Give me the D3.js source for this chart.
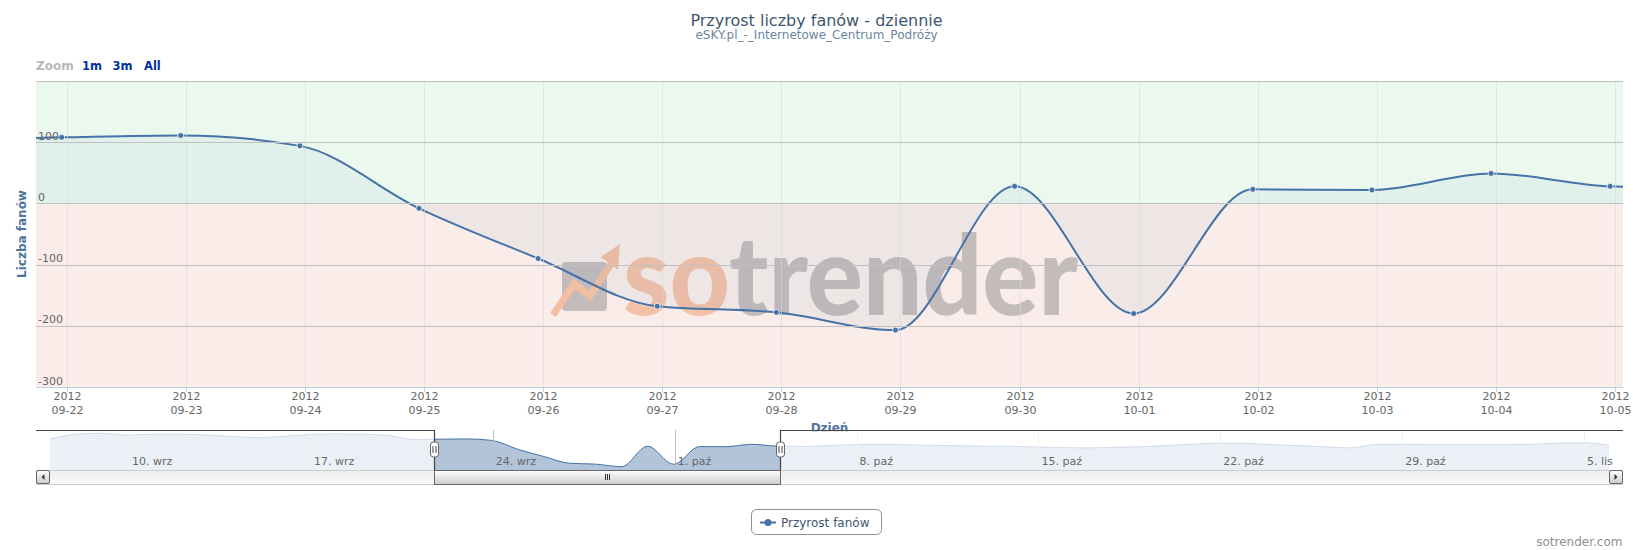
<!DOCTYPE html>
<html lang="pl">
<head>
<meta charset="utf-8">
<title>Przyrost liczby fanów - dziennie</title>
<script src="https://cdnjs.cloudflare.com/ajax/libs/d3/7.8.5/d3.min.js"></script>
<style>
    body { margin: 0; background: #fff; }
    svg { display: block; font-family: "DejaVu Sans", Verdana, sans-serif; }
</style>
</head>
<body>
<svg id="chart"></svg>
<script>
    // daily fan growth (eSKY.pl), 7 Sep - 6 Nov 2012
    var days = [
        "2012-09-07","2012-09-08","2012-09-09","2012-09-10","2012-09-11","2012-09-12","2012-09-13",
        "2012-09-14","2012-09-15","2012-09-16","2012-09-17","2012-09-18","2012-09-19","2012-09-20",
        "2012-09-21","2012-09-22","2012-09-23","2012-09-24","2012-09-25","2012-09-26","2012-09-27",
        "2012-09-28","2012-09-29","2012-09-30","2012-10-01","2012-10-02","2012-10-03","2012-10-04",
        "2012-10-05","2012-10-06","2012-10-07","2012-10-08","2012-10-09","2012-10-10","2012-10-11",
        "2012-10-12","2012-10-13","2012-10-14","2012-10-15","2012-10-16","2012-10-17","2012-10-18",
        "2012-10-19","2012-10-20","2012-10-21","2012-10-22","2012-10-23","2012-10-24","2012-10-25",
        "2012-10-26","2012-10-27","2012-10-28","2012-10-29","2012-10-30","2012-10-31","2012-11-01",
        "2012-11-02","2012-11-03","2012-11-04","2012-11-05","2012-11-06"
    ];
    var fans = [
        108, 165, 175, 155, 165, 165, 155,
        140, 125, 140, 162, 168, 165, 152,
        104, 108, 111, 94, -8, -90, -168,
        -178, -207, 28, -180, 23, 22, 49,
        28, 25, 35, 45, 50, 42, 38,
        32, 28, 26, 18, 10, 8, 15,
        22, 35, 50, 62, 60, 45, 35,
        22, 8, 45, 50, 45, 45, 45,
        45, 50, 62, 68, 38
    ];
    // visible window of the main chart
    var viewFrom = "2012-09-21 17:50", viewTo = "2012-10-05 01:35";
    var yTicks = [100, 0, -100, -200, -300];
    var yGrid = [200, 100, 0, -100, -200];
    var monthsPl = ["sty","lut","mar","kwi","maj","cze","lip","sie","wrz","paź","lis","gru"];
    var zoomButtons = ["1m", "3m", "All"];

    var W = 1633, H = 550;
    var plot = {left: 36, right: 1623, top: 81, bottom: 387};
    var nav = {top: 430, bottom: 470, sb: 484};

    var parse = d3.timeParse("%Y-%m-%d %H:%M");
    var data = days.map(function(d, i) {
        // points sit one hour before local midnight in the original
        return {date: d3.timeHour.offset(parse(d + " 00:00"), -1), value: fans[i]};
    });

    var svg = d3.select("#chart").attr("width", W).attr("height", H);

    // titles
    svg.append("text").attr("x", W / 2).attr("y", 25.5).attr("text-anchor", "middle")
        .style("font-size", "16px").attr("fill", "#3e576f").text("Przyrost liczby fanów - dziennie");
    svg.append("text").attr("x", W / 2).attr("y", 39).attr("text-anchor", "middle")
        .style("font-size", "12px").attr("fill", "#6d869f").text("eSKY.pl_-_Internetowe_Centrum_Podróży");

    // range selector
    svg.append("text").attr("x", 36).attr("y", 69.5).style("font-size", "12px")
        .style("font-weight", "bold").attr("fill", "#b8b8b8").text("Zoom");
    var btnX = [82, 112.5, 144];
    zoomButtons.forEach(function(b, i) {
        svg.append("text").attr("x", btnX[i]).attr("y", 69.5).style("font-size", "11.5px")
            .style("font-weight", "bold").attr("fill", "#003399").text(b);
    });

    // scales
    var x = d3.scaleTime().domain([parse(viewFrom), parse(viewTo)]).range([plot.left, plot.right]);
    var y = d3.scaleLinear().domain([-300, 200]).range([plot.bottom, plot.top]);

    svg.append("clipPath").attr("id", "clip").append("rect")
        .attr("x", plot.left).attr("y", plot.top)
        .attr("width", plot.right - plot.left).attr("height", plot.bottom - plot.top);

    // plot bands
    svg.append("rect").attr("x", plot.left).attr("y", y(200)).attr("width", plot.right - plot.left)
        .attr("height", y(0) - y(200)).attr("fill", "#ebf8ee");
    svg.append("rect").attr("x", plot.left).attr("y", y(0)).attr("width", plot.right - plot.left)
        .attr("height", y(-300) - y(0)).attr("fill", "#f9ece9");

    // watermark
    var wm = svg.append("g");
    wm.append("rect").attr("x", 562).attr("y", 262).attr("width", 45).attr("height", 49)
        .attr("rx", 4).attr("fill", "#c4bcbc");
    wm.append("polyline").attr("points", "553,315 574,284 590,296 611,264")
        .attr("fill", "none").attr("stroke", "#f3bfa2").attr("stroke-width", 7)
        .attr("stroke-linejoin", "miter");
    wm.append("polygon").attr("points", "601,257 620,244 618,270").attr("fill", "#f3bfa2");
    var wt = wm.append("text").attr("x", 623).attr("y", 315)
        .attr("textLength", 455).attr("lengthAdjust", "spacingAndGlyphs")
        .style("font-family", "Lato, 'Open Sans', sans-serif").style("font-weight", "900")
        .style("font-size", "111px");
    wt.append("tspan").attr("fill", "#f3c1a6").text("so");
    wt.append("tspan").attr("fill", "#c4bbbb").text("trender");

    var pg = svg.append("g").attr("clip-path", "url(#clip)");

    // area between series and zero
    var area = d3.area().curve(d3.curveMonotoneX)
        .x(function(d) { return x(d.date); })
        .y0(y(0))
        .y1(function(d) { return y(d.value); });
    pg.append("path").datum(data).attr("d", area).attr("fill", "#4572a7").attr("fill-opacity", 0.06);

    // grid
    var xTicks = d3.timeDay.range(d3.timeDay.ceil(x.domain()[0]), x.domain()[1]);
    svg.append("g").selectAll("line").data(xTicks).enter().append("line")
        .attr("x1", function(d) { return Math.round(x(d)) + 0.5; })
        .attr("x2", function(d) { return Math.round(x(d)) + 0.5; })
        .attr("y1", plot.top).attr("y2", plot.bottom)
        .attr("stroke", "#d8d8d8").attr("stroke-opacity", 0.6);
    svg.append("g").selectAll("line").data(yGrid).enter().append("line")
        .attr("x1", plot.left).attr("x2", plot.right)
        .attr("y1", function(d) { return Math.round(y(d)) + 0.5; })
        .attr("y2", function(d) { return Math.round(y(d)) + 0.5; })
        .attr("stroke", "#c0c0c0");

    // x axis
    svg.append("line").attr("x1", plot.left).attr("x2", plot.right)
        .attr("y1", plot.bottom + 0.5).attr("y2", plot.bottom + 0.5).attr("stroke", "#c0d0e0");
    var xl = svg.append("g").selectAll("g").data(xTicks).enter().append("g")
        .attr("transform", function(d) { return "translate(" + (Math.round(x(d)) + 0.5) + ",0)"; });
    xl.append("line").attr("y1", plot.bottom).attr("y2", plot.bottom + 5).attr("stroke", "#c0d0e0");
    xl.append("text").attr("y", 400).attr("text-anchor", "middle").style("font-size", "11px")
        .attr("fill", "#666").text(d3.timeFormat("%Y"));
    xl.append("text").attr("y", 414).attr("text-anchor", "middle").style("font-size", "11px")
        .attr("fill", "#666").text(d3.timeFormat("%m-%d"));
    svg.append("text").attr("x", (plot.left + plot.right) / 2).attr("y", 431.5)
        .attr("text-anchor", "middle").style("font-size", "12px").style("font-weight", "bold")
        .attr("fill", "#4d759e").text("Dzień");

    // y axis
    svg.append("g").selectAll("text").data(yTicks).enter().append("text")
        .attr("x", 38).attr("y", function(d) { return y(d) - 2.5; })
        .style("font-size", "11px").attr("fill", "#666").text(function(d) { return d; });
    svg.append("text").attr("transform", "translate(26," + (plot.top + plot.bottom) / 2 + ") rotate(-90)")
        .attr("text-anchor", "middle").style("font-size", "12px").style("font-weight", "bold")
        .attr("fill", "#4d759e").text("Liczba fanów");

    // series
    var line = d3.line().curve(d3.curveMonotoneX)
        .x(function(d) { return x(d.date); })
        .y(function(d) { return y(d.value); });
    pg.append("path").datum(data).attr("d", line).attr("fill", "none")
        .attr("stroke", "#4572a7").attr("stroke-width", 2);
    pg.selectAll("circle").data(data).enter().append("circle")
        .attr("cx", function(d) { return x(d.date); })
        .attr("cy", function(d) { return y(d.value); })
        .attr("r", 3).attr("fill", "#4572a7").attr("stroke", "#fff").attr("stroke-width", 0.8);

    // navigator
    var nx = d3.scaleTime()
        .domain([d3.timeHour.offset(data[0].date, -13), d3.timeHour.offset(data[data.length - 1].date, 13)])
        .range([plot.left, plot.right]);
    var ext = d3.extent(data, function(d) { return d.value; });
    var pad = (ext[1] - ext[0]) * 0.1;
    var ny = d3.scaleLinear().domain([ext[0] - pad, ext[1] + pad]).range([nav.bottom, nav.top]);
    var navArea = d3.area().curve(d3.curveMonotoneX)
        .x(function(d) { return nx(d.date); })
        .y0(nav.bottom)
        .y1(function(d) { return ny(d.value); });
    var navLine = d3.line().curve(d3.curveMonotoneX)
        .x(function(d) { return nx(d.date); })
        .y(function(d) { return ny(d.value); });
    svg.append("path").datum(data).attr("d", navArea).attr("fill", "#4572a7").attr("fill-opacity", 0.42);
    svg.append("path").datum(data).attr("d", navLine).attr("fill", "none")
        .attr("stroke", "#4572a7").attr("stroke-width", 1);

    var weeks = d3.timeMonday.range(nx.domain()[0], nx.domain()[1]);
    svg.append("g").selectAll("line").data(weeks).enter().append("line")
        .attr("x1", function(d) { return Math.round(nx(d)) + 0.5; })
        .attr("x2", function(d) { return Math.round(nx(d)) + 0.5; })
        .attr("y1", nav.top).attr("y2", nav.bottom).attr("stroke", "#c0c0c0");

    var selA = Math.round(nx(x.domain()[0])), selB = Math.round(nx(x.domain()[1]));
    svg.append("rect").attr("x", plot.left).attr("y", nav.top).attr("width", selA - plot.left)
        .attr("height", nav.bottom - nav.top).attr("fill", "rgba(255,255,255,0.75)");
    svg.append("rect").attr("x", selB).attr("y", nav.top).attr("width", plot.right - selB)
        .attr("height", nav.bottom - nav.top).attr("fill", "rgba(255,255,255,0.75)");

    svg.append("g").selectAll("text").data(weeks).enter().append("text")
        .attr("x", function(d) { return nx(d) + 3; }).attr("y", 465)
        .style("font-size", "11px").attr("fill", "#666")
        .text(function(d) { return d.getDate() + ". " + monthsPl[d.getMonth()]; });

    // scrollbar
    var defs = svg.append("defs");
    var g1 = defs.append("linearGradient").attr("id", "track").attr("x1", 0).attr("x2", 0).attr("y1", 0).attr("y2", 1);
    g1.append("stop").attr("offset", "0").attr("stop-color", "#eeeeee");
    g1.append("stop").attr("offset", "1").attr("stop-color", "#fafafa");
    var g2 = defs.append("linearGradient").attr("id", "thumb").attr("x1", 0).attr("x2", 0).attr("y1", 0).attr("y2", 1);
    g2.append("stop").attr("offset", "0").attr("stop-color", "#ffffff");
    g2.append("stop").attr("offset", "1").attr("stop-color", "#cccccc");

    svg.append("rect").attr("x", plot.left + 0.5).attr("y", nav.bottom + 0.5)
        .attr("width", plot.right - plot.left - 1).attr("height", nav.sb - nav.bottom)
        .attr("fill", "url(#track)").attr("stroke", "#cccccc");
    svg.append("rect").attr("x", selA + 0.5).attr("y", nav.bottom + 0.5)
        .attr("width", selB - selA).attr("height", nav.sb - nav.bottom)
        .attr("fill", "url(#thumb)").attr("stroke", "#666");
    var mid = Math.round((selA + selB) / 2);
    [-2, 0, 2].forEach(function(o) {
        svg.append("line").attr("x1", mid + o + 0.5).attr("x2", mid + o + 0.5)
            .attr("y1", 474).attr("y2", 480).attr("stroke", "#333");
    });
    [plot.left, plot.right - 14].forEach(function(bx, i) {
        svg.append("rect").attr("x", bx + 0.5).attr("y", nav.bottom + 0.5).attr("width", 13).attr("height", 13)
            .attr("rx", 1.5).attr("fill", "url(#thumb)").attr("stroke", "#666");
        var cx = bx + 7, cy = nav.bottom + 7;
        var pts = i === 0 ? [[cx + 1.5, cy - 3], [cx + 1.5, cy + 3], [cx - 1.5, cy]]
                          : [[cx - 1.5, cy - 3], [cx - 1.5, cy + 3], [cx + 1.5, cy]];
        svg.append("polygon").attr("points", pts.join(" ")).attr("fill", "#333");
    });

    // navigator outline and handles
    svg.append("path")
        .attr("d", "M" + plot.left + "," + (nav.top + 0.5) + "H" + (selA + 0.5) + "V" + nav.bottom +
            "M" + (selB + 0.5) + "," + nav.bottom + "V" + (nav.top + 0.5) + "H" + plot.right)
        .attr("fill", "none").attr("stroke", "#444").attr("stroke-width", 1.2);
    [selA, selB].forEach(function(hx) {
        var h = svg.append("g").attr("transform", "translate(" + (hx + 0.5) + ",0)");
        h.append("rect").attr("x", -4).attr("y", 442).attr("width", 8).attr("height", 15)
            .attr("rx", 3).attr("fill", "#fff").attr("stroke", "#666");
        h.append("line").attr("x1", -1.5).attr("x2", -1.5).attr("y1", 446).attr("y2", 453).attr("stroke", "#444");
        h.append("line").attr("x1", 1.5).attr("x2", 1.5).attr("y1", 446).attr("y2", 453).attr("stroke", "#444");
    });

    // legend
    svg.append("rect").attr("x", 751.5).attr("y", 509.5).attr("width", 130).attr("height", 25)
        .attr("rx", 5).attr("fill", "#fff").attr("stroke", "#909090");
    svg.append("line").attr("x1", 760).attr("x2", 776).attr("y1", 522.5).attr("y2", 522.5)
        .attr("stroke", "#4572a7").attr("stroke-width", 2);
    svg.append("circle").attr("cx", 768).attr("cy", 522.5).attr("r", 3.5).attr("fill", "#4572a7");
    svg.append("text").attr("x", 781).attr("y", 526.5).style("font-size", "12px")
        .attr("fill", "#3e576f").text("Przyrost fanów");

    // credits
    svg.append("text").attr("x", 1622.5).attr("y", 545.5).attr("text-anchor", "end")
        .style("font-size", "12px").attr("fill", "#909090").text("sotrender.com");
</script>
</body>
</html>
